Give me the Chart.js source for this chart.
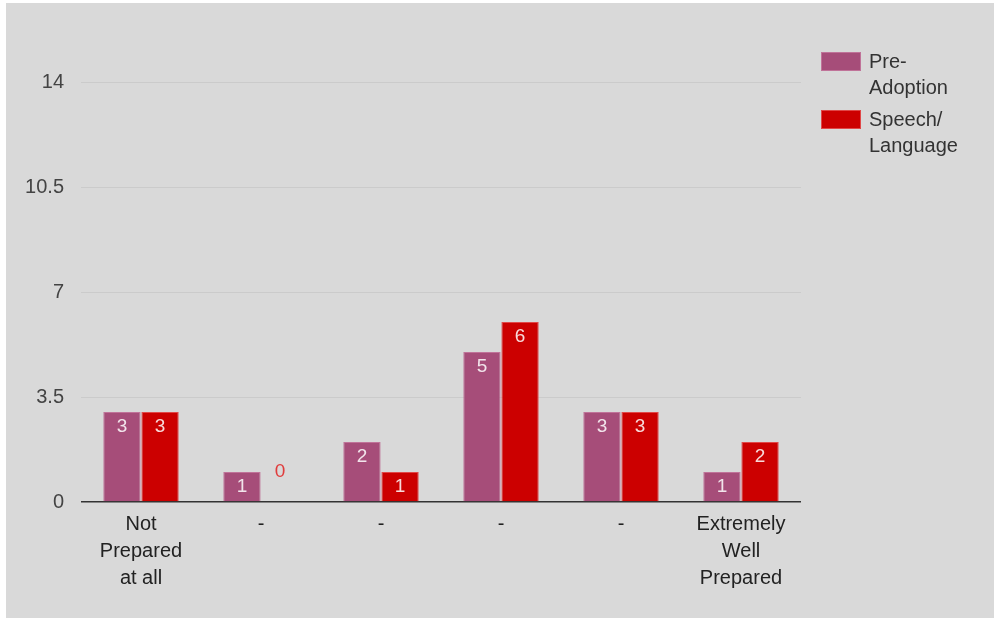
<!DOCTYPE html>
<html>
<head>
<meta charset="utf-8">
<script src="https://cdn.jsdelivr.net/npm/chart.js@4"></script>
<style>
  html, body { margin: 0; padding: 0; background: #ffffff; }
  #wrap { position: absolute; left: 6px; top: 3px; width: 988px; height: 615px; background: #d9d9d9; }
</style>
</head>
<body>
<div id="wrap"><canvas id="prepChart" width="988" height="615"></canvas></div>
<script>
const categories = [['Not', 'Prepared', 'at all'], '-', '-', '-', '-', ['Extremely', 'Well', 'Prepared']];
const preAdoption = [3, 1, 2, 5, 3, 1];
const speechLanguage = [3, 0, 1, 6, 3, 2];
const yTicks = [0, 3.5, 7, 10.5, 14];
const seriesNames = ['Pre-Adoption', 'Speech/Language'];
const legendLines = [['Pre-', 'Adoption'], ['Speech/', 'Language']];
const seriesColors = ['#a64d79', '#cc0000'];
const seriesEdges = ['#c07399', '#e04848'];

const FONT = '"Liberation Sans", Arial, sans-serif';

// value labels: inside the top of each bar, or above it when the bar is empty
const barLabels = {
  id: 'barLabels',
  afterDatasetsDraw(chart) {
    const ctx = chart.ctx;
    ctx.save();
    ctx.font = '19px ' + FONT;
    ctx.textAlign = 'center';
    ctx.textBaseline = 'middle';
    chart.data.datasets.forEach((ds, i) => {
      chart.getDatasetMeta(i).data.forEach((bar, j) => {
        const v = ds.data[j];
        if (v > 0) {
          ctx.fillStyle = 'rgba(255,255,255,0.85)';
          ctx.fillText(String(v), bar.x, bar.y + 15);
        } else {
          ctx.fillStyle = '#e03c3c';
          ctx.fillText(String(v), bar.x, bar.y - 30);
        }
      });
    });
    ctx.restore();
  }
};

// legend on the right with wrapped names
const sideLegend = {
  id: 'sideLegend',
  afterDraw(chart) {
    const ctx = chart.ctx;
    const left = chart.chartArea.right + 20;
    let top = 49;
    ctx.save();
    ctx.font = '20px ' + FONT;
    ctx.textAlign = 'left';
    ctx.textBaseline = 'middle';
    chart.data.datasets.forEach((ds, i) => {
      ctx.fillStyle = ds.backgroundColor;
      ctx.fillRect(left, top, 40, 19);
      ctx.strokeStyle = ds.borderColor;
      ctx.lineWidth = 1;
      ctx.strokeRect(left + 0.5, top + 0.5, 39, 18);
      ctx.fillStyle = '#333333';
      legendLines[i].forEach((line, k) => {
        ctx.fillText(line, left + 48, top + 10 + k * 26);
      });
      top += 58;
    });
    ctx.restore();
  }
};

new Chart(document.getElementById('prepChart').getContext('2d'), {
  type: 'bar',
  data: {
    labels: categories,
    datasets: [
      {
        label: seriesNames[0],
        data: preAdoption,
        backgroundColor: seriesColors[0],
        borderColor: seriesEdges[0],
        borderWidth: 1
      },
      {
        label: seriesNames[1],
        data: speechLanguage,
        backgroundColor: seriesColors[1],
        borderColor: seriesEdges[1],
        borderWidth: 1
      }
    ]
  },
  options: {
    responsive: false,
    animation: false,
    layout: { padding: { top: 79, right: 193, left: 0, bottom: 0 } },
    datasets: { bar: { categoryPercentage: 0.635, barPercentage: 0.98 } },
    plugins: {
      legend: { display: false },
      tooltip: { enabled: false }
    },
    scales: {
      x: {
        grid: { display: false, drawTicks: false },
        border: { display: false },
        ticks: {
          color: '#222222',
          font: { family: FONT, size: 20, lineHeight: 1.35 },
          padding: 9,
          maxRotation: 0,
          autoSkip: false
        },
        afterFit(scale) { scale.height = 116; }
      },
      y: {
        min: 0,
        max: 14,
        afterBuildTicks(scale) { scale.ticks = yTicks.map(v => ({ value: v })); },
        grid: {
          drawTicks: false,
          color: ctx => (ctx.tick && ctx.tick.value === 0 ? '#333333' : '#cbcbcb'),
          lineWidth: ctx => (ctx.tick && ctx.tick.value === 0 ? 1.5 : 1)
        },
        border: { display: false },
        ticks: {
          color: '#444444',
          font: { family: FONT, size: 20 },
          padding: 17
        },
        afterFit(scale) { scale.width = 75; }
      }
    }
  },
  plugins: [barLabels, sideLegend]
});
</script>
</body>
</html>
